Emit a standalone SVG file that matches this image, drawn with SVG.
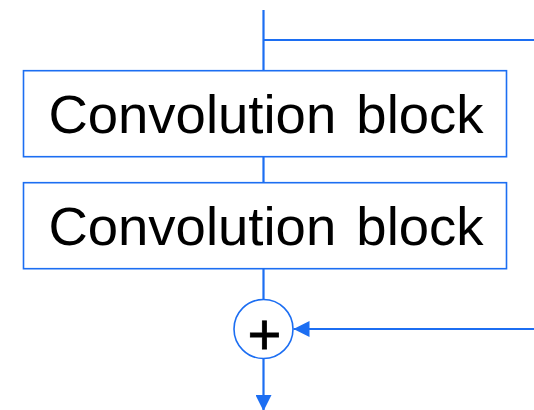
<svg xmlns="http://www.w3.org/2000/svg" width="534" height="410" viewBox="0 0 534 410">
  <style>
    .wire { stroke: #1c6ef2; stroke-width: 2.2; fill: none; }
    .box { fill: #ffffff; stroke: #1c6ef2; stroke-width: 1.6; }
    .label { font-family: "Liberation Sans", Arial, sans-serif; font-size: 54.5px; word-spacing: 5px; fill: #000000; text-anchor: middle; }
    .op { font-family: "Liberation Sans", Arial, sans-serif; font-size: 58px; fill: #000000; text-anchor: middle; }
  </style>
  <defs>
    <marker id="arrow" viewBox="0 0 16 16" refX="16" refY="8" markerWidth="16" markerHeight="16" markerUnits="userSpaceOnUse" orient="auto">
      <path d="M0,0 L16,8 L0,16 Z" fill="#1c6ef2"/>
    </marker>
  </defs>

  <!-- connectors -->
  <g id="connectors">
    <line class="wire" x1="263.5" y1="10" x2="263.5" y2="70.7"/>
    <line class="wire" x1="263.5" y1="40" x2="534" y2="40"/>
    <line class="wire" x1="263.5" y1="156.7" x2="263.5" y2="182.7"/>
    <line class="wire" x1="263.5" y1="268.7" x2="263.5" y2="299.5"/>
    <line class="wire" x1="534" y1="329" x2="293.5" y2="329" marker-end="url(#arrow)"/>
    <line class="wire" x1="263.5" y1="358.5" x2="263.5" y2="411" marker-end="url(#arrow)"/>
  </g>

  <!-- first convolution block -->
  <g id="conv1">
    <rect class="box" x="23.5" y="70.7" width="483" height="86"/>
    <text class="label" x="266" y="133">Convolution block</text>
  </g>

  <!-- second convolution block -->
  <g id="conv2">
    <rect class="box" x="23.5" y="182.7" width="483" height="86"/>
    <text class="label" x="266" y="245">Convolution block</text>
  </g>

  <!-- residual sum -->
  <g id="sum">
    <circle cx="263.5" cy="329" r="29.5" fill="#ffffff" stroke="#1c6ef2" stroke-width="1.6"/>
    <text class="op" x="264.5" y="353.5" stroke="#000000" stroke-width="0.8">+</text>
  </g>
</svg>
